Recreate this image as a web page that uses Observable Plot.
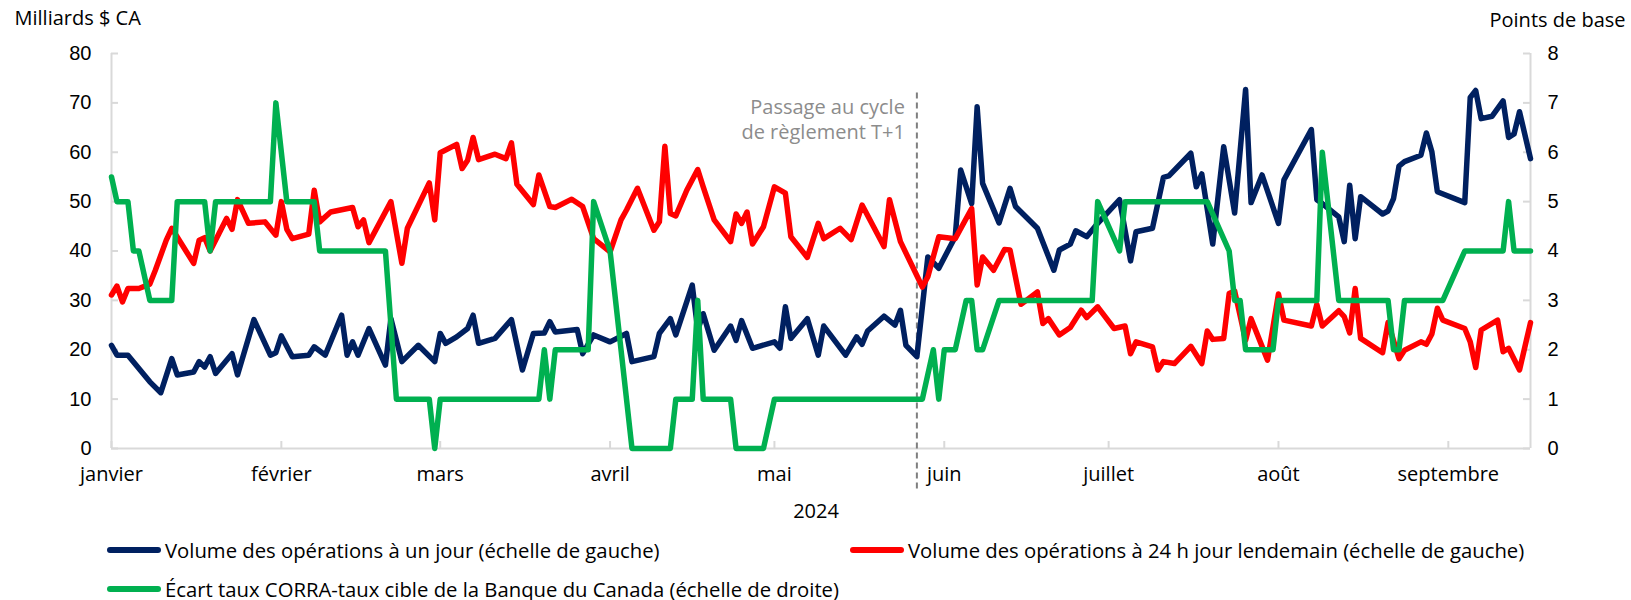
<!DOCTYPE html>
<html>
<head>
<meta charset="utf-8">
<script src="https://cdn.jsdelivr.net/npm/d3@7"></script>
<script src="https://cdn.jsdelivr.net/npm/@observablehq/plot@0.6"></script>
<style>
  body { margin: 0; background: #fff; }
  #chart { width: 1631px; }
  .legend { position: relative; width: 1631px; height: 70px; font-family: "Open Sans", sans-serif; font-size: 20.3px; color: #000; }
  .item { position: absolute; display: flex; align-items: center; white-space: nowrap; height: 28px; }
  .sw { width: 54px; height: 6px; border-radius: 3px; margin-right: 4px; }
</style>
</head>
<body>
<div id="chart"></div>
<div class="legend" id="legend"></div>
<script>
// ---- Data ----
const year = "2024";

// Volume des opérations à un jour (left axis, milliards $ CA)
const blueDates = ["01-01","01-02","01-04","01-08","01-10","01-12","01-13","01-16","01-17","01-18","01-19","01-20","01-23","01-24","01-27","01-30","01-31","02-01","02-03","02-06","02-07","02-09","02-12","02-13","02-14","02-15","02-17","02-20","02-21","02-23","02-26","02-29","03-01","03-02","03-04","03-06","03-07","03-08","03-11","03-14","03-16","03-18","03-20","03-21","03-22","03-26","03-27","03-29","04-01","04-04","04-05","04-09","04-10","04-12","04-13","04-16","04-17","04-18","04-20","04-23","04-24","04-25","04-27","05-01","05-02","05-03","05-04","05-07","05-09","05-10","05-14","05-16","05-17","05-18","05-21","05-23","05-24","05-25","05-27","05-29","05-31","06-03","06-04","06-06","06-07","06-08","06-11","06-13","06-14","06-18","06-21","06-22","06-24","06-25","06-27","06-29","07-03","07-05","07-06","07-09","07-11","07-12","07-16","07-17","07-18","07-20","07-22","07-24","07-26","07-27","07-29","08-01","08-02","08-07","08-08","08-09","08-12","08-13","08-14","08-15","08-16","08-20","08-21","08-22","08-23","08-24","08-27","08-28","08-29","08-30","09-04","09-05","09-06","09-07","09-09","09-11","09-12","09-13","09-14","09-16"];
const blueValues = [20.9,18.9,18.9,13.5,11.3,18.2,14.9,15.5,17.6,16.5,18.6,15.2,19.2,14.9,26.1,18.9,19.4,22.8,18.6,18.9,20.6,18.9,27.0,18.9,21.6,18.9,24.3,16.9,26.3,17.6,20.9,17.6,23.3,21.3,22.6,24.3,27.0,21.3,22.3,26.1,15.9,23.3,23.4,25.7,23.6,24.1,19.2,23.0,21.6,23.3,17.6,18.6,23.3,26.3,23.0,33.1,24.0,27.3,19.9,24.8,21.9,25.9,20.3,21.6,20.3,28.7,22.3,26.3,18.9,24.8,18.9,22.6,21.1,23.8,26.8,25.0,28.0,20.9,18.6,38.8,36.5,42.9,56.4,49.6,69.2,53.7,45.7,52.7,49.0,44.6,36.1,40.2,41.4,44.1,42.9,45.6,50.4,38.0,43.9,44.6,54.9,55.2,59.8,53.0,55.6,41.4,61.1,47.7,72.7,49.8,55.4,45.6,54.4,64.6,50.4,49.6,46.9,41.9,53.3,42.5,51.0,47.5,48.1,50.6,57.2,58.1,59.4,63.9,60.1,52.0,49.8,71.1,72.5,66.8,67.3,70.4,63.0,63.7,68.2,58.7];

// Volume des opérations à 24 h jour lendemain (left axis, milliards $ CA)
const redDates = ["01-01","01-02","01-03","01-04","01-06","01-08","01-09","01-11","01-12","01-16","01-17","01-18","01-19","01-22","01-23","01-24","01-26","01-29","01-31","02-01","02-02","02-03","02-06","02-07","02-08","02-10","02-14","02-15","02-16","02-17","02-21","02-23","02-24","02-28","02-29","03-01","03-04","03-05","03-06","03-07","03-08","03-11","03-13","03-14","03-15","03-18","03-19","03-21","03-22","03-25","03-27","03-29","04-01","04-03","04-04","04-06","04-09","04-10","04-11","04-12","04-13","04-15","04-17","04-18","04-20","04-23","04-24","04-25","04-26","04-27","04-29","05-01","05-03","05-04","05-07","05-09","05-10","05-13","05-15","05-17","05-21","05-22","05-24","05-28","05-29","05-31","06-03","06-06","06-07","06-08","06-10","06-12","06-13","06-15","06-18","06-19","06-20","06-22","06-24","06-26","06-27","06-29","07-02","07-04","07-05","07-06","07-09","07-10","07-11","07-13","07-16","07-18","07-19","07-20","07-22","07-23","07-24","07-26","07-27","07-30","08-01","08-02","08-07","08-08","08-09","08-12","08-13","08-14","08-15","08-16","08-20","08-21","08-23","08-24","08-27","08-28","08-29","08-30","08-31","09-04","09-05","09-06","09-07","09-10","09-11","09-12","09-14","09-16"];
const redValues = [31.1,32.9,29.7,32.4,32.4,33.3,36.1,42.2,44.6,37.5,42.2,42.7,40.0,46.6,44.4,50.4,45.6,45.9,43.2,50.0,44.4,42.5,43.4,52.3,45.9,47.9,48.8,44.9,46.3,41.7,50.0,37.5,44.6,53.8,46.3,59.9,61.6,56.7,58.4,63.0,58.5,59.6,58.7,61.9,53.5,49.4,55.4,49.0,48.8,50.5,49.0,42.5,39.8,46.3,48.3,52.7,44.2,45.9,61.2,47.6,47.1,52.3,56.5,53.0,46.3,41.9,47.5,45.6,47.9,41.4,44.9,53.0,51.7,42.9,38.7,45.6,42.5,44.6,42.3,49.3,40.9,50.4,41.9,32.7,34.8,42.9,42.5,48.6,33.1,38.8,36.1,40.3,40.2,29.2,31.7,25.3,26.3,23.0,24.5,28.0,26.5,28.7,24.3,24.8,19.2,21.6,20.6,15.9,17.6,17.2,20.7,17.2,23.8,22.1,22.3,31.4,31.9,21.9,26.3,17.9,31.3,26.0,24.8,29.2,24.8,27.9,26.7,23.4,32.4,22.3,19.4,25.5,18.2,19.9,21.6,21.1,23.2,28.4,26.0,24.3,21.6,16.4,24.0,26.0,19.6,20.3,15.9,25.5];

// Écart taux CORRA-taux cible (right axis, points de base)
const greenDates = ["01-01","01-02","01-04","01-05","01-06","01-08","01-12","01-13","01-18","01-19","01-20","01-30","01-31","02-02","02-07","02-08","02-20","02-22","02-28","02-29","03-01","03-19","03-20","03-21","03-22","03-28","03-29","04-01","04-05","04-12","04-13","04-16","04-17","04-18","04-23","04-24","04-29","05-01","05-28","05-30","05-31","06-01","06-03","06-05","06-06","06-07","06-08","06-11","06-28","06-29","07-03","07-04","07-19","07-23","07-24","07-25","07-26","07-31","08-01","08-08","08-09","08-12","08-21","08-22","08-23","08-24","08-31","09-04","09-11","09-12","09-13","09-16"];
const greenValues = [5.5,5,5,4,4,3,3,5,5,4,5,5,7,5,5,4,4,1,1,0,1,1,2,1,2,2,5,4,0,0,1,1,3,1,1,0,0,1,1,2,1,2,2,3,3,2,2,3,3,5,4,5,5,4,3,3,2,2,3,3,6,3,3,2,2,3,3,4,4,5,4,4];

const leftTicks = [0, 10, 20, 30, 40, 50, 60, 70, 80];
const rightTicks = [0, 1, 2, 3, 4, 5, 6, 7, 8];
const monthTickDates = ["01-01","02-01","03-01","04-01","05-01","06-01","07-01","08-01","09-01"];
const monthLabels = ["janvier","février","mars","avril","mai","juin","juillet","août","septembre"];
const xStartDate = "01-01";
const xEndDate = "09-16";
const transitionDate = "05-27";

const leftTitle = "Milliards $ CA";
const rightTitle = "Points de base";
const xTitle = "2024";
const noteText = "Passage au cycle\nde règlement T+1";
const seriesNames = [
  "Volume des opérations à un jour (échelle de gauche)",
  "Volume des opérations à 24 h jour lendemain (échelle de gauche)",
  "Écart taux CORRA-taux cible de la Banque du Canada (échelle de droite)"
];
const colors = ["#002060", "#FF0000", "#00B050"];

// ---- Build ----
const parse = d3.utcParse("%Y-%m-%d");
const toDate = md => parse(`${year}-${md}`);
const ratio = leftTicks[leftTicks.length - 1] / rightTicks[rightTicks.length - 1];

const blue = blueDates.map((d, i) => ({date: toDate(d), value: blueValues[i]}));
const red = redDates.map((d, i) => ({date: toDate(d), value: redValues[i]}));
const green = greenDates.map((d, i) => ({date: toDate(d), value: greenValues[i] * ratio}));
const monthDates = monthTickDates.map(toDate);
const x0 = toDate(xStartDate), x1 = toDate(xEndDate), tDate = toDate(transitionDate);

const W = 1631, H = 530, mL = 111, mR = 101, mT = 53, mB = 82;
const plotW = W - mL - mR, plotH = H - mT - mB;
const axisColor = "#d9d9d9";
const tickLen = 7;
const lineW = 5.5;

const chart = Plot.plot({
  width: W, height: H,
  marginLeft: mL, marginRight: mR, marginTop: mT, marginBottom: mB,
  style: {fontFamily: "'Open Sans', sans-serif", fontSize: "20px", color: "#000", background: "#fff"},
  x: {type: "utc", domain: [x0, x1]},
  y: {domain: [0, leftTicks[leftTicks.length - 1]]},
  marks: [
    // axis lines
    Plot.ruleY([0], {stroke: axisColor, strokeWidth: 2}),
    Plot.ruleX([x0, x1], {stroke: axisColor, strokeWidth: 2}),
    // inward ticks
    Plot.ruleY(leftTicks, {stroke: axisColor, strokeWidth: 2, insetRight: plotW - tickLen}),
    Plot.ruleY(leftTicks, {stroke: axisColor, strokeWidth: 2, insetLeft: plotW - tickLen}),
    Plot.ruleX(monthDates, {stroke: axisColor, strokeWidth: 2, insetTop: plotH - tickLen}),
    // axes labels
    Plot.axisY(leftTicks, {anchor: "left", tickSize: 0, tickPadding: 20, label: null, fontFamily: "'Liberation Sans', Arial, sans-serif", fontSize: 20}),
    Plot.axisY(rightTicks.map(v => v * ratio), {anchor: "right", tickSize: 0, tickPadding: 17, label: null, tickFormat: d => String(d / ratio), fontFamily: "'Liberation Sans', Arial, sans-serif", fontSize: 20}),
    Plot.axisX(monthDates, {tickSize: 0, tickPadding: 18, label: null, tickFormat: d => monthLabels[monthDates.findIndex(m => +m === +d)], fontSize: 20}),
    // transition marker
    Plot.ruleX([tDate], {y1: 72, y2: -9, stroke: "#7f7f7f", strokeWidth: 2, strokeDasharray: "6,4"}),
    Plot.text([noteText], {x: [tDate], frameAnchor: "top", textAnchor: "end", lineAnchor: "top", dx: -12, dy: 43, fill: "#8c8c8c", fontSize: 20, lineHeight: 1.25}),
    // series
    Plot.line(blue, {x: "date", y: "value", stroke: colors[0], strokeWidth: lineW, strokeLinejoin: "round"}),
    Plot.line(red, {x: "date", y: "value", stroke: colors[1], strokeWidth: lineW, strokeLinejoin: "round"}),
    Plot.line(green, {x: "date", y: "value", stroke: colors[2], strokeWidth: lineW, strokeLinejoin: "round"}),
    // titles
    Plot.text([leftTitle], {frameAnchor: "top-left", textAnchor: "start", lineAnchor: "middle", dx: -97, dy: -35, fontSize: 20}),
    Plot.text([rightTitle], {frameAnchor: "top-right", textAnchor: "start", lineAnchor: "middle", dx: -41, dy: -33, fontSize: 20}),
    Plot.text([xTitle], {frameAnchor: "bottom", lineAnchor: "middle", dx: -5, dy: 63, fontSize: 20})
  ]
});
document.getElementById("chart").appendChild(chart);

// ---- Legend ----
const legendPos = [{left: 107, top: 6}, {left: 850, top: 6}, {left: 107, top: 45}];
const legend = document.getElementById("legend");
seriesNames.forEach((name, i) => {
  const item = document.createElement("div");
  item.className = "item";
  item.style.left = legendPos[i].left + "px";
  item.style.top = legendPos[i].top + "px";
  const sw = document.createElement("span");
  sw.className = "sw";
  sw.style.background = colors[i];
  const label = document.createElement("span");
  label.textContent = name;
  item.appendChild(sw);
  item.appendChild(label);
  legend.appendChild(item);
});
</script>
</body>
</html>
